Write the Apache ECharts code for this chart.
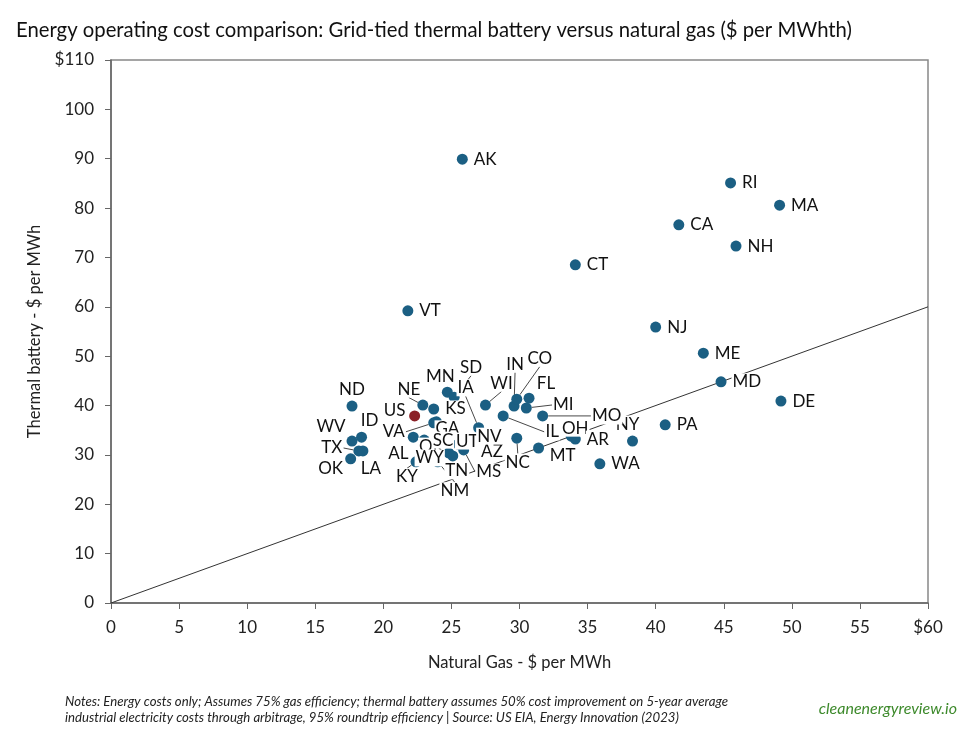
<!DOCTYPE html>
<html>
<head>
<meta charset="utf-8">
<script src="https://cdn.jsdelivr.net/npm/echarts@6/dist/echarts.min.js"></script>
<style>
html,body{margin:0;padding:0;background:#fff;}
#c{width:979px;height:734px;}
</style>
</head>
<body>
<div id="c"></div>
<script>
// ---- data ----
var states = ['AK','RI','MA','CA','NH','CT','VT','NJ','ME','MD','DE','PA','NY','WA',
  'ND','WV','ID','TX','LA','OK','US','NE','KS','MN','SD','VA','GA','AL','OR','WY',
  'KY','NM','TN','MS','UT','SC','AZ','NV','IA','WI','IN','CO','FL','MI','MO','IL',
  'NC','MT','OH','AR'];
var gasCost = [25.8,45.5,49.1,41.7,45.9,34.1,21.8,40.0,43.5,44.8,49.2,40.7,38.3,35.9,
  17.7,17.7,18.4,18.2,18.5,17.6,22.3,22.9,23.7,24.7,25.2,23.7,23.9,22.2,23.0,24.8,
  22.4,24.0,25.1,25.9,25.5,24.6,28.2,27.2,27.0,27.5,29.6,29.8,30.7,30.5,31.7,28.8,
  29.8,31.4,33.8,34.1];
var batteryCost = [89.9,85.1,80.6,76.6,72.3,68.5,59.2,55.9,50.6,44.8,40.9,36.1,32.8,28.2,
  39.9,32.8,33.6,30.8,30.8,29.2,37.9,40.1,39.3,42.7,41.7,36.5,36.7,33.6,33.0,30.4,
  28.6,28.6,29.8,31.0,32.2,33.4,31.0,34.2,35.5,40.1,39.9,41.3,41.5,39.5,37.9,37.9,
  33.4,31.4,33.8,33.2];
var parityLine = [[0,0],[60,60]];
var xTicks = {max: 60, step: 5};
var yTicks = {max: 110, step: 10};

// label placement (offset of label centre from marker centre, px) + whether a leader line is drawn
var labelPlace = {
  NY:[-5,-17,0], ND:[0,-17,0], WV:[-21,-15,0], ID:[8,-17,0], TX:[-27,-3,1], LA:[8,18,0],
  OK:[-20,10,0], US:[-20,-5,0], NE:[-14,-16,1], MN:[-7,-16,0], SD:[17,-30,1],
  VA:[-40,9,1], GA:[11,7,0], AL:[-15,16,0], OR:[7,6,0], WY:[-19,5,0], KY:[-9,15,1],
  NM:[17,29,1], TN:[4,15,0], MS:[25,22,1], UT:[9,-3,0], SC:[-3,2,0], AZ:[-3,2,0],
  NV:[8,2,0], IA:[-13,-40,1], WI:[16,-22,1], IN:[1,-42,1], CO:[23,-41,1], FL:[17,-15,0],
  MI:[37,-3,1], MO:[64,0,1], IL:[49,16,1], NC:[1,24,1], MT:[24,8,0], OH:[4,-8,0]
};

var pts = states.map(function(s,i){
  var item = {name: s, value: [gasCost[i], batteryCost[i]]};
  if (s === 'US') item.itemStyle = {color: '#8b2026'};
  var lp = labelPlace[s];
  item.labelLine = {show: !!(lp && lp[2])};
  return item;
});

var chart = echarts.init(document.getElementById('c'));
var font = 'Lato, "Open Sans", sans-serif';
chart.setOption({
  animation: false,
  textStyle: {fontFamily: font},
  title: {
    text: 'Energy operating cost comparison: Grid-tied thermal battery versus natural gas ($ per MWhth)',
    left: 11, top: 15,
    textStyle: {fontSize: 20.3, fontWeight: 'normal', color: '#111', fontFamily: font}
  },
  grid: {left: 111, right: 51, top: 60, bottom: 131, show: true, borderColor: '#888', borderWidth: 1.5},
  xAxis: {
    type: 'value', min: 0, max: xTicks.max, interval: xTicks.step,
    name: 'Natural Gas - $ per MWh', nameLocation: 'middle', nameGap: 51,
    nameTextStyle: {fontSize: 16.5, color: '#222'},
    axisLine: {lineStyle: {color: '#666', width: 1.5}},
    axisTick: {show: true, length: 6, lineStyle: {color: '#666'}},
    splitLine: {show: false},
    axisLabel: {fontSize: 17, color: '#222', margin: 16,
      formatter: function(v){ return v === xTicks.max ? '$' + v : String(v); }}
  },
  yAxis: {
    type: 'value', min: 0, max: yTicks.max, interval: yTicks.step,
    name: 'Thermal battery - $ per MWh', nameLocation: 'middle', nameGap: 61,
    nameTextStyle: {fontSize: 16.5, color: '#222'},
    axisLine: {show: true, lineStyle: {color: '#666', width: 1.5}},
    axisTick: {show: true, length: 6, lineStyle: {color: '#666'}},
    splitLine: {show: false},
    axisLabel: {fontSize: 17, color: '#222', margin: 17,
      formatter: function(v){ return v === yTicks.max ? '$' + v : String(v); }}
  },
  series: [
    {
      type: 'line', data: parityLine, symbol: 'none', silent: true, z: 1,
      lineStyle: {color: '#333', width: 1}
    },
    {
      type: 'scatter', data: pts, symbolSize: 11, z: 3,
      itemStyle: {color: '#1b5f83', opacity: 1},
      label: {show: true, position: 'right', distance: 5, formatter: '{b}',
        fontSize: 17, color: '#111', fontFamily: font,
        backgroundColor: '#fff', padding: [0, 1]},
      labelLine: {show: false, length2: 0, lineStyle: {color: '#333', width: 0.9}},
      labelLayout: function(p){
        var s = states[p.dataIndex];
        var lp = labelPlace[s];
        if (!lp) return {};
        var cx = p.rect.x + p.rect.width / 2, cy = p.rect.y + p.rect.height / 2;
        return {x: cx + lp[0], y: cy + lp[1], align: 'center', verticalAlign: 'middle'};
      }
    }
  ],
  graphic: [
    {type: 'text', left: 65, top: 694,
      style: {text: 'Notes: Energy costs only; Assumes 75% gas efficiency; thermal battery assumes 50% cost improvement on 5-year average\nindustrial electricity costs through arbitrage, 95% roundtrip efficiency | Source: US EIA, Energy Innovation (2023)',
        font: 'italic 13.2px ' + font, fill: '#222', lineHeight: 16}},
    {type: 'text', right: 22, top: 701,
      style: {text: 'cleanenergyreview.io', font: 'italic 16px ' + font, fill: '#3e8a2c'}}
  ]
});
</script>
</body>
</html>
